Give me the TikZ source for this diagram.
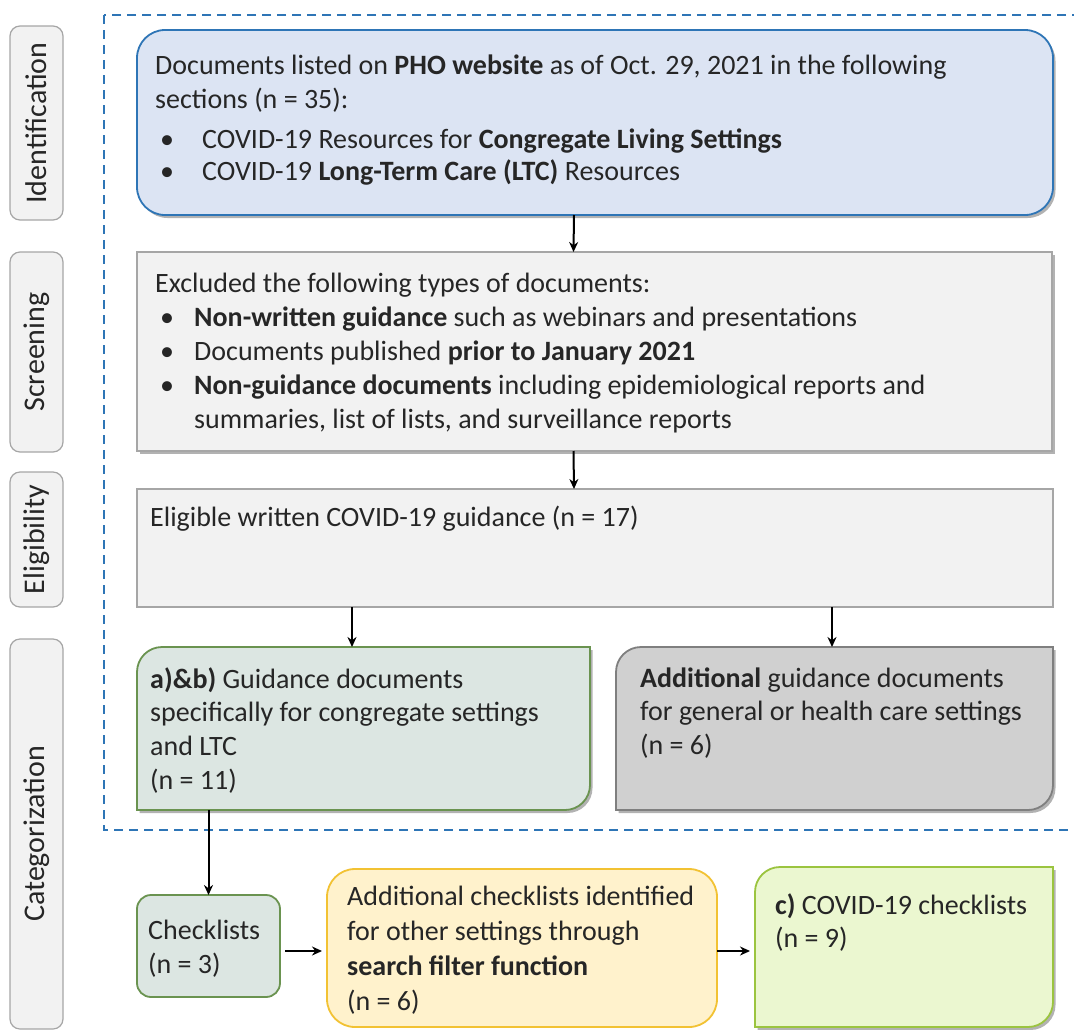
\documentclass[tikz,border=0pt]{standalone}
\usepackage{fontspec}
\setmainfont{Carlito}
\usetikzlibrary{arrows.meta,shadows,calc}
\definecolor{frameblue}{HTML}{2E75B6}
\definecolor{bluefill}{HTML}{DCE4F3}
\definecolor{blueline}{HTML}{2E75B6}
\definecolor{grayfill}{HTML}{F2F2F2}
\definecolor{grayline}{HTML}{A6A6A6}
\definecolor{greenfill}{HTML}{DCE6E2}
\definecolor{greenline}{HTML}{6A9350}
\definecolor{dgrayfill}{HTML}{D0D0D0}
\definecolor{dgrayline}{HTML}{7F7F7F}
\definecolor{yelfill}{HTML}{FFF2CC}
\definecolor{yelline}{HTML}{F2C233}
\definecolor{limefill}{HTML}{EBF7D0}
\definecolor{limeline}{HTML}{9BC43F}
\definecolor{txtcol}{HTML}{262626}
\newcommand{\bitem}[1]{\makebox[#1][l]{\hspace{5pt}\textbullet}}
\newcommand{\tlbrbox}[3]{%
  \draw[#3] (#1.south west) -- ([yshift=-#2]#1.north west)
    arc[start angle=180,end angle=90,radius=#2] -- (#1.north east)
    -- ([yshift=#2]#1.south east)
    arc[start angle=0,end angle=-90,radius=#2] -- cycle;}
\begin{document}
\begin{tikzpicture}[x=1pt,y=-1pt,
  font=\fontsize{28}{34}\selectfont,
  anchorbox/.style={inner sep=0pt, outer sep=0pt, anchor=north west, shape=rectangle},
  txt/.style={inner sep=0pt, anchor=north west, align=left, text=txtcol},
  sidelabel/.style={draw=grayline, fill=grayfill, line width=1.2pt, rounded corners=10pt,
     rotate=90, minimum height=53pt, inner sep=0pt, text=txtcol, font=\fontsize{30}{36}\selectfont},
  shad/.style={drop shadow={shadow xshift=2.5pt, shadow yshift=-3pt, fill=black, opacity=0.3}},
  arr/.style={line width=2pt, -{Stealth[length=10pt,width=9pt]}},
]
\useasboundingbox (0,0) rectangle (1074,1029);
\clip (0,0) rectangle (1074,1029);
\fill[white] (0,0) rectangle (1074,1029);

% side labels
\node[sidelabel, minimum width=194pt] (lid) at (36.5,123) {Identification};
\node[sidelabel, minimum width=200pt] (lscr) at (36.5,352) {Screening};
\node[sidelabel, minimum width=135pt] (lelg) at (36.5,539.5) {Eligibility};
\node[sidelabel, minimum width=390pt] (lcat) at (36.5,834) {Categorization};

% dashed frame
\draw[frameblue, line width=2.2pt, dash pattern=on 9pt off 6pt] (104,15) rectangle (1090,830);

% identification box
\node[anchorbox, minimum width=916pt, minimum height=185pt, draw=blueline, fill=bluefill,
  line width=1.8pt, rounded corners=28pt, shad] (blue) at (137,30) {};
\node[txt] (bluet) at (155,55) {Documents listed on \textbf{PHO website} as of Oct. 29, 2021 in the following\\
sections (n = 35):\\[6pt]
\bitem{47pt}COVID-19 Resources for \textbf{Congregate Living Settings}\\[-2pt]
\bitem{47pt}COVID-19 \textbf{Long-Term Care (LTC)} Resources};

% screening box
\node[anchorbox, minimum width=915pt, minimum height=199pt, draw=grayline, fill=grayfill,
  line width=2pt, shad] (scr) at (137,252) {};
\node[txt] (scrt) at (155,273) {Excluded the following types of documents:\\
\bitem{39pt}\textbf{Non-written guidance} such as webinars and presentations\\
\bitem{39pt}Documents published \textbf{prior to January 2021}\\
\bitem{39pt}\textbf{Non-guidance documents} including epidemiological reports and\\
\hspace*{39pt}summaries, list of lists, and surveillance reports};

% eligibility box
\node[anchorbox, minimum width=916pt, minimum height=118pt, draw=grayline, fill=grayfill,
  line width=2pt] (elg) at (137,489) {};
\node[txt] (elgt) at (150,506) {Eligible written COVID-19 guidance (n = 17)};

% categorization boxes
\node[anchorbox, minimum width=453pt, minimum height=163pt] (grn) at (137,647) {};
\tlbrbox{grn}{25pt}{draw=greenline, fill=greenfill, line width=1.8pt, shad}
\node[txt] (grnt) at (150,668) {\textbf{a)\&b)} Guidance documents\\[-1pt]
specifically for congregate settings\\
and LTC\\
(n = 11)};

\node[anchorbox, minimum width=437pt, minimum height=163pt] (gry) at (616,647) {};
\tlbrbox{gry}{25pt}{draw=dgrayline, fill=dgrayfill, line width=1.8pt, shad}
\node[txt] (gryt) at (640,668) {\textbf{Additional} guidance documents\\[-1pt]
for general or health care settings\\
(n = 6)};

% bottom row
\node[anchorbox, minimum width=143pt, minimum height=102pt, draw=greenline, fill=greenfill,
  line width=1.8pt, rounded corners=14pt] (chk) at (137,895) {};
\node[txt] (chkt) at (148,920) {Checklists\\(n = 3)};

\node[anchorbox, minimum width=390pt, minimum height=158pt, draw=yelline, fill=yelfill,
  line width=1.8pt, rounded corners=28pt] (yel) at (327,869) {};
\node[txt] (yelt) at (347,886) {Additional checklists identified\\[1pt]
for other settings through\\[1pt]
\textbf{search filter function}\\[1pt]
(n = 6)};

\node[anchorbox, minimum width=298pt, minimum height=160pt] (lim) at (755,867) {};
\tlbrbox{lim}{25pt}{draw=limeline, fill=limefill, line width=1.8pt, shad}
\node[txt] (limt) at (775,894) {\textbf{c)} COVID-19 checklists\\[-1pt](n = 9)};

% connectors
\draw[arr] ([xshift=-21pt]blue.south) -- ([xshift=-21pt]scr.north);
\draw[arr] ([xshift=-21pt]scr.south) -- ([xshift=-21pt]elg.north);
\draw[arr] (elg.south -| 352,0) -- (grn.north -| 352,0);
\draw[arr] (elg.south -| 832,0) -- (gry.north -| 832,0);
\draw[arr] (grn.south -| chk.north) -- (chk.north);
\draw[arr, shorten <=5pt, shorten >=5pt] (chk.east |- 0,951) -- (yel.west |- 0,951);
\draw[arr, shorten >=5pt] (yel.east |- 0,951) -- (lim.west |- 0,951);
\end{tikzpicture}
\end{document}
